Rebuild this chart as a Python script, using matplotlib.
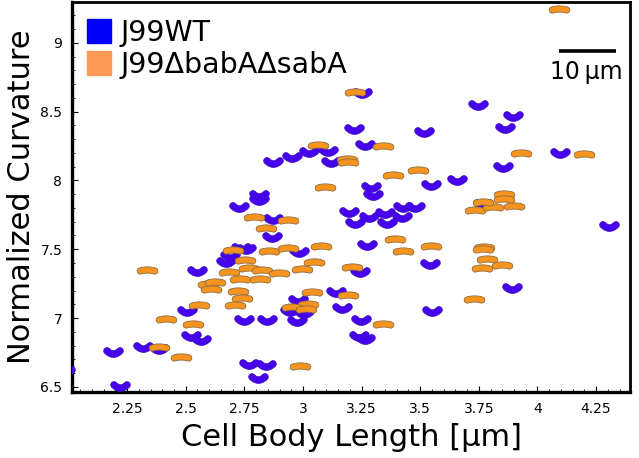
import numpy as np
import matplotlib.pyplot as plt
from matplotlib.path import Path
from matplotlib.lines import Line2D

# cell body length [um] / normalized curvature
wt_length = [2.220, 2.190, 2.318, 2.386, 2.506, 2.523, 2.566, 2.548, 2.672, 2.689,
             2.736, 2.757, 2.749, 2.770, 2.809, 2.868, 2.983, 3.273, 3.542, 3.243,
             3.141, 2.979, 2.945, 3.005, 3.167, 3.551, 2.847, 2.975, 3.248, 3.239,
             3.265, 2.843, 4.305, 3.892, 3.768, 3.252, 3.218, 3.265, 2.873, 2.954,
             3.026, 3.107, 3.120, 2.813, 2.813, 2.728, 2.873, 3.197, 3.222, 3.290,
             3.299, 3.282, 3.350, 3.359, 3.423, 3.427, 3.478, 3.747, 3.896, 3.862,
             3.516, 4.098, 3.853, 3.657, 3.546, 1.986]
wt_curv = [6.505, 6.753, 6.789, 6.774, 7.051, 6.869, 6.840, 7.342, 7.407, 7.451,
           7.509, 7.502, 6.985, 6.665, 6.564, 7.589, 7.480, 7.531, 7.393, 7.334,
           7.189, 7.131, 7.051, 7.036, 7.073, 7.051, 6.985, 6.978, 6.985, 6.869,
           6.847, 6.658, 7.669, 7.218, 7.829, 8.636, 8.375, 8.258, 8.135, 8.171,
           8.207, 8.215, 8.135, 7.894, 7.858, 7.807, 7.720, 7.771, 7.691, 7.953,
           7.894, 7.735, 7.764, 7.691, 7.735, 7.807, 7.807, 8.549, 8.469, 8.382,
           8.353, 8.200, 8.098, 8.004, 7.967, 6.614]

mut_length = [2.335, 2.416, 2.386, 2.480, 2.531, 2.557, 2.595, 2.608, 2.625, 2.685,
              2.702, 2.753, 2.732, 2.723, 2.740, 2.710, 2.770, 2.817, 2.855, 2.937,
              3.077, 3.393, 3.427, 3.546, 3.047, 2.996, 3.209, 2.826, 2.898, 3.039,
              3.192, 3.022, 2.954, 3.013, 3.342, 2.988, 3.734, 3.811, 3.900, 3.768,
              3.858, 3.858, 3.772, 3.768, 3.785, 3.764, 3.849, 3.730, 3.222, 3.064,
              3.188, 3.192, 3.342, 3.094, 2.792, 2.937, 2.843, 3.491, 3.384, 3.930,
              4.199, 4.092]
mut_curv = [7.349, 6.993, 6.789, 6.716, 6.956, 7.094, 7.247, 7.211, 7.262, 7.334,
            7.494, 7.422, 7.284, 7.196, 7.145, 7.094, 7.364, 7.284, 7.487, 7.509,
            7.524, 7.574, 7.487, 7.524, 7.407, 7.356, 7.371, 7.349, 7.327, 7.189,
            7.167, 7.102, 7.080, 7.065, 6.956, 6.651, 7.785, 7.807, 7.814, 7.844,
            7.902, 7.865, 7.516, 7.502, 7.429, 7.364, 7.385, 7.138, 8.644, 8.258,
            8.156, 8.135, 8.251, 7.953, 7.735, 7.713, 7.654, 8.076, 8.040, 8.200,
            8.193, 9.247]

labels = ["J99WT", "J99\u0394babA\u0394sabA"]
xticks = [2.25, 2.5, 2.75, 3, 3.25, 3.5, 3.75, 4, 4.25]
xticklabels = ["2.25", "2.5", "2.75", "3", "3.25", "3.5", "3.75", "4", "4.25"]
yticks = [6.5, 7, 7.5, 8, 8.5, 9]
yticklabels = ["6.5", "7", "7.5", "8", "8.5", "9"]


def cell_marker(half_len, radius, bend, n=24):
    # bent capsule outline, used as a scatter marker
    t = np.linspace(-1, 1, n)
    cx, cy = half_len * t, bend * t ** 2
    dx, dy = half_len * np.ones_like(t), 2 * bend * t
    nrm = np.hypot(dx, dy)
    nx, ny = -dy / nrm, dx / nrm
    upper = np.column_stack([cx + radius * nx, cy + radius * ny])
    lower = np.column_stack([cx - radius * nx, cy - radius * ny])[::-1]
    th = np.arctan2(ny[-1], nx[-1])
    a = np.linspace(th, th - np.pi, 12)
    cap_r = np.column_stack([cx[-1] + radius * np.cos(a), cy[-1] + radius * np.sin(a)])
    ph = np.arctan2(-ny[0], -nx[0])
    a = np.linspace(ph, ph - np.pi, 12)
    cap_l = np.column_stack([cx[0] + radius * np.cos(a), cy[0] + radius * np.sin(a)])
    v = np.vstack([upper, cap_r, lower, cap_l])
    v -= (v.max(axis=0) + v.min(axis=0)) / 2
    v = np.vstack([v, v[:1]])
    return Path(v, closed=True)


blue_cell = cell_marker(0.33, 0.17, 0.16)
orange_cell = cell_marker(0.35, 0.15, -0.05)

fig = plt.figure(figsize=(6.39, 4.58), dpi=100)
ax = fig.add_axes([0.1127, 0.144, 0.8733, 0.852])

ax.scatter(wt_length, wt_curv, s=200, marker=blue_cell, c="#4600ee",
           edgecolors="#3a10b8", linewidths=0.5, zorder=3)
ax.scatter(mut_length, mut_curv, s=220, marker=orange_cell, c="#f7941d",
           edgecolors="#8c6c42", linewidths=0.6, zorder=3)

ax.set_xlim(2.015, 4.395)
ax.set_ylim(6.462, 9.298)
ax.set_xticks(xticks)
ax.set_xticklabels(xticklabels)
ax.set_yticks(yticks)
ax.set_yticklabels(yticklabels)
ax.minorticks_on()
ax.tick_params(which="major", direction="in", length=4, width=0.8, labelsize=10, pad=7)
ax.tick_params(which="minor", direction="in", length=2, width=0.6)
ax.tick_params(top=False, right=False, which="both")
for s in ax.spines.values():
    s.set_linewidth(2)
ax.spines["left"].set_linewidth(2.4)
ax.spines["bottom"].set_linewidth(2.4)

ax.set_xlabel("Cell Body Length [\u00b5m]", fontsize=22, labelpad=5)
ax.set_ylabel("Normalized Curvature", fontsize=22, labelpad=3)

handles = [Line2D([], [], ls="none", marker="s", ms=17, mfc="#0000ff", mec="#0000ff"),
           Line2D([], [], ls="none", marker="s", ms=17, mfc="#ff9955", mec="#ff9955")]
ax.legend(handles, labels, loc="upper left", bbox_to_anchor=(-0.005, 1.0),
          frameon=False, fontsize=20.5, handlelength=0.9, handletextpad=0.3,
          labelspacing=0.15, borderaxespad=0.2)

# scale bar
ax.plot([0.872, 0.975], [0.873, 0.873], color="black", lw=2.6,
        transform=ax.transAxes, solid_capstyle="butt")
ax.text(0.9215, 0.85, "10\u2009\u00b5m", transform=ax.transAxes, fontsize=17,
        ha="center", va="top")

fig.savefig("out.png", dpi=100)
